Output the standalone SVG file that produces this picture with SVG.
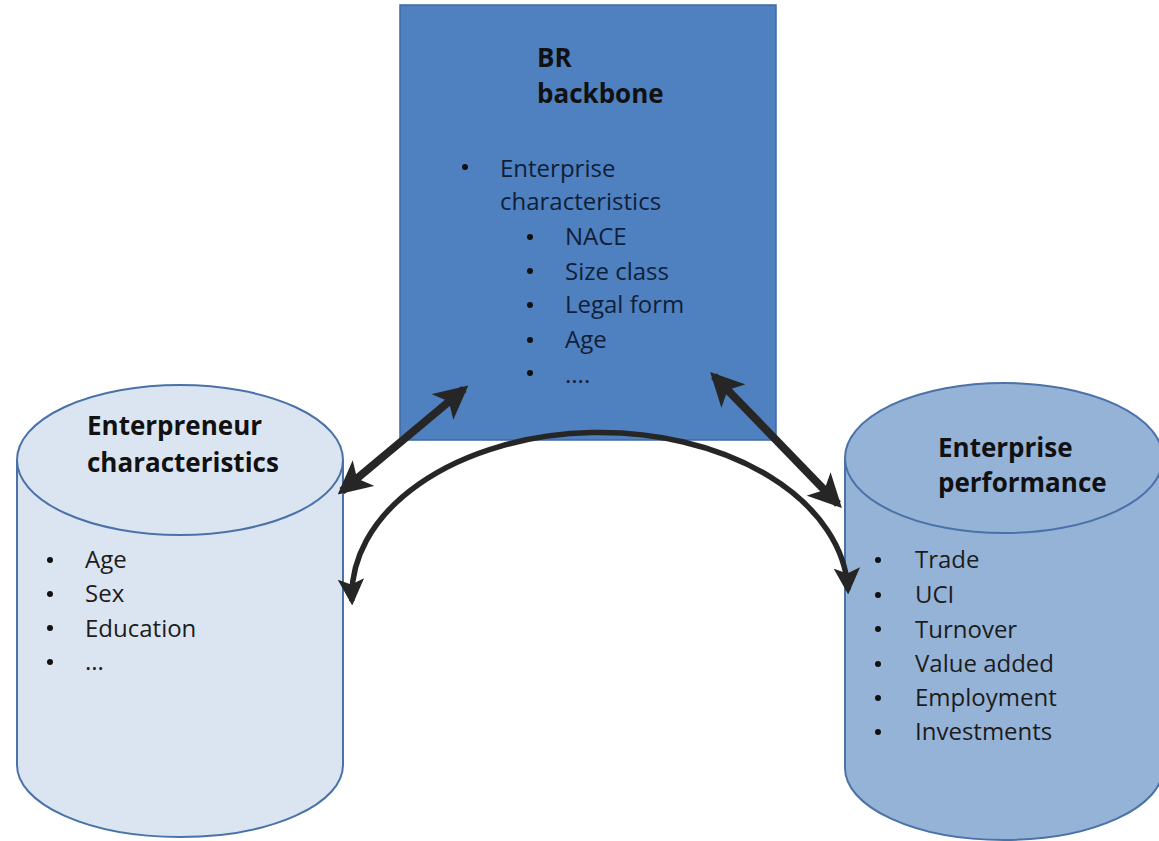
<svg xmlns="http://www.w3.org/2000/svg" width="1159" height="841" viewBox="0 0 1159 841">
  <style>
    .title { font-family: "Open Sans", "Liberation Sans", sans-serif; font-weight: bold; font-size: 26px; fill: #111111; }
    .item { font-family: "Open Sans", "Liberation Sans", sans-serif; font-size: 24px; fill: #1c1c1c; }
    .dark { fill: #0f1f3a; }
    .bullet { fill: #111111; }
    .arrow-straight { fill: none; stroke: #262626; stroke-width: 8; }
    .arrow-arc { fill: none; stroke: #262626; stroke-width: 5.5; }
  </style>
  <defs>
    <marker id="headBig" viewBox="0 0 12 12" refX="10" refY="6" markerWidth="4.2" markerHeight="4.2" orient="auto-start-reverse" markerUnits="strokeWidth">
      <path d="M0,0 L12,6 L0,12 L3,6 Z" fill="#262626"/>
    </marker>
    <marker id="headArc" viewBox="0 0 12 12" refX="10" refY="6" markerWidth="4.8" markerHeight="4.8" orient="auto-start-reverse" markerUnits="strokeWidth">
      <path d="M0,0 L12,6 L0,12 L2.5,6 Z" fill="#262626"/>
    </marker>
  </defs>

  <rect width="1159" height="841" fill="#ffffff"/>

  <!-- Business register backbone -->
  <g id="br-backbone">
    <rect x="400" y="5" width="376" height="435" fill="#4f80bf" stroke="#3d6aa3" stroke-width="1.5"/>
    <text class="title" x="537" y="67">BR</text>
    <text class="title" x="537" y="103">backbone</text>
    <circle class="bullet" cx="465" cy="167" r="3"/>
    <text class="item dark" x="500" y="177">Enterprise</text>
    <text class="item dark" x="500" y="210">characteristics</text>
    <circle class="bullet" cx="530" cy="237" r="3"/>
    <text class="item dark" x="565" y="245">NACE</text>
    <circle class="bullet" cx="530" cy="271" r="3"/>
    <text class="item dark" x="565" y="280">Size class</text>
    <circle class="bullet" cx="530" cy="305" r="3"/>
    <text class="item dark" x="565" y="313">Legal form</text>
    <circle class="bullet" cx="530" cy="340" r="3"/>
    <text class="item dark" x="565" y="348">Age</text>
    <circle class="bullet" cx="530" cy="373" r="3"/>
    <text class="item dark" x="565" y="383">....</text>
  </g>

  <!-- Entrepreneur data store -->
  <g id="entrepreneur-characteristics">
    <path d="M17,460 L17,765 A163,72 0 0 0 343,765 L343,460 Z" fill="#dbe5f1" stroke="#4a72a8" stroke-width="2"/>
    <ellipse cx="180" cy="460" rx="163" ry="75" fill="#dbe5f1" stroke="#4a72a8" stroke-width="2"/>
    <text class="title" x="87" y="435">Enterpreneur</text>
    <text class="title" x="87" y="472">characteristics</text>
    <circle class="bullet" cx="50" cy="560" r="3"/>
    <text class="item" x="85" y="568">Age</text>
    <circle class="bullet" cx="50" cy="594" r="3"/>
    <text class="item" x="85" y="602">Sex</text>
    <circle class="bullet" cx="50" cy="628" r="3"/>
    <text class="item" x="85" y="637">Education</text>
    <circle class="bullet" cx="50" cy="662" r="3"/>
    <text class="item" x="85" y="670">...</text>
  </g>

  <!-- Enterprise performance data store -->
  <g id="enterprise-performance">
    <path d="M845,458 L845,768 A159,72 0 0 0 1163,768 L1163,458 Z" fill="#95b3d7" stroke="#4a72a8" stroke-width="2"/>
    <ellipse cx="1004" cy="458" rx="159" ry="75" fill="#95b3d7" stroke="#4a72a8" stroke-width="2"/>
    <text class="title" x="938" y="457">Enterprise</text>
    <text class="title" x="938" y="492">performance</text>
    <circle class="bullet" cx="878" cy="560" r="3"/>
    <text class="item" x="915" y="568">Trade</text>
    <circle class="bullet" cx="878" cy="595" r="3"/>
    <text class="item" x="915" y="603">UCI</text>
    <circle class="bullet" cx="878" cy="629" r="3"/>
    <text class="item" x="915" y="638">Turnover</text>
    <circle class="bullet" cx="878" cy="664" r="3"/>
    <text class="item" x="915" y="672">Value added</text>
    <circle class="bullet" cx="878" cy="698" r="3"/>
    <text class="item" x="915" y="706">Employment</text>
    <circle class="bullet" cx="878" cy="732" r="3"/>
    <text class="item" x="915" y="740">Investments</text>
  </g>

  <!-- Links between the data sources -->
  <g id="connectors">
    <line class="arrow-straight" x1="342" y1="491" x2="464" y2="389" marker-start="url(#headBig)" marker-end="url(#headBig)"/>
    <line class="arrow-straight" x1="714" y1="376" x2="838" y2="504" marker-start="url(#headBig)" marker-end="url(#headBig)"/>
    <path class="arrow-arc" d="M352,601 A248,163 0 0 1 848,590" marker-start="url(#headArc)" marker-end="url(#headArc)"/>
  </g>
</svg>
